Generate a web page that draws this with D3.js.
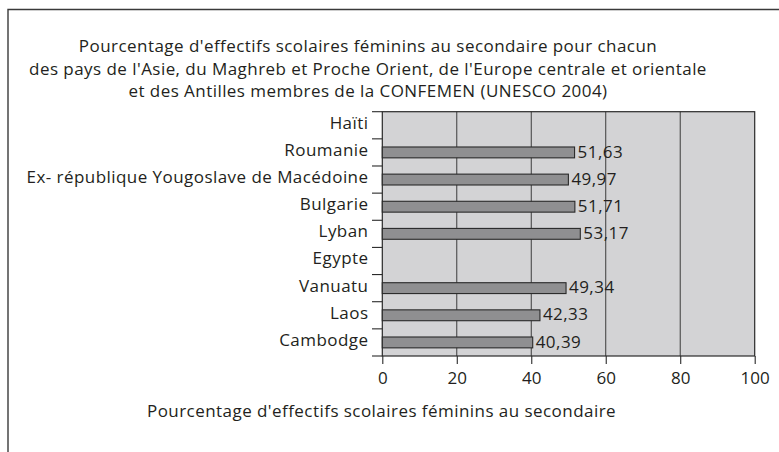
<!DOCTYPE html>
<html><head><meta charset="utf-8">
<script src="https://cdn.jsdelivr.net/npm/d3@7"></script>
<style>
html,body{margin:0;padding:0;background:#fff;}
svg{display:block;}
text{font-family:"Open Sans", sans-serif; fill:#231f20;}
</style></head>
<body><svg id="c" width="779" height="452"></svg>
<script>
const titleLines = [
  "Pourcentage d'effectifs scolaires féminins au secondaire pour chacun",
  "des pays de l'Asie, du Maghreb et Proche Orient, de l'Europe centrale et orientale",
  "et des Antilles membres de la CONFEMEN (UNESCO 2004)"
];
const categories = ["Haïti","Roumanie","Ex- république Yougoslave de Macédoine","Bulgarie","Lyban","Egypte","Vanuatu","Laos","Cambodge"];
const values = [null,51.63,49.97,51.71,53.17,null,49.34,42.33,40.39];
const valueLabels = ["","51,63","49,97","51,71","53,17","","49,34","42,33","40,39"];
const xTicks = [0,20,40,60,80,100];
const xTitle = "Pourcentage d'effectifs scolaires féminins au secondaire";

const svg = d3.select("#c");
const fs = 17;
const ls = "0.45px";

// outer frame
svg.append("path").attr("d","M8,452V9.5H779").attr("fill","none").attr("stroke","#3a3a3a").attr("stroke-width",1.4);

// title
svg.append("g").selectAll("text").data(titleLines).join("text")
  .attr("x",368).attr("y",(d,i)=>52+i*22.7).attr("text-anchor","middle")
  .style("font-size",fs+"px").style("letter-spacing",ls).text(d=>d);

const x = d3.scaleLinear().domain([0,100]).range([382.3,754.7]);
const y = d3.scaleBand().domain(categories).range([111.7,356]).paddingInner(0.6).paddingOuter(0.3);
const step = y.step();
const pTop = 111.7, pBottom = 356;

// plot background
svg.append("rect").attr("x",x(0)).attr("y",pTop).attr("width",x(100)-x(0)).attr("height",pBottom-pTop)
  .attr("fill","#d3d3d5");

// grid
svg.append("g").selectAll("line").data(xTicks.slice(1,-1)).join("line")
  .attr("x1",d=>x(d)).attr("x2",d=>x(d)).attr("y1",pTop).attr("y2",pBottom)
  .attr("stroke","#3c3c3c").attr("stroke-width",1);

// plot border
svg.append("rect").attr("x",x(0)).attr("y",pTop).attr("width",x(100)-x(0)).attr("height",pBottom-pTop)
  .attr("fill","none").attr("stroke","#2a2a2a").attr("stroke-width",1.2);

// bars
const data = categories.map((c,i)=>({c, v:values[i], l:valueLabels[i]})).filter(d=>d.v!=null);
svg.append("g").selectAll("rect").data(data).join("rect")
  .attr("x",x(0)).attr("y",d=>y(d.c)).attr("width",d=>x(d.v)-x(0)).attr("height",y.bandwidth())
  .attr("fill","#8f8f91").attr("stroke","#2a2a2a").attr("stroke-width",1.1);

// value labels
svg.append("g").selectAll("text").data(data).join("text")
  .attr("x",d=>x(d.v)+3).attr("y",d=>y(d.c)+y.bandwidth()/2).attr("dy","0.3em")
  .style("font-size",fs+"px").style("letter-spacing",ls).text(d=>d.l);

// y axis ticks at band boundaries
const bounds = d3.range(categories.length+1).map(i=>pTop+i*step);
svg.append("g").selectAll("line").data(bounds).join("line")
  .attr("x1",372).attr("x2",x(0)).attr("y1",d=>d).attr("y2",d=>d)
  .attr("stroke","#2a2a2a").attr("stroke-width",1.1);
svg.append("g").selectAll("text").data(categories).join("text")
  .attr("x",368.5).attr("y",d=>y(d)+y.bandwidth()/2).attr("dy","0.2em")
  .attr("text-anchor","end").style("font-size",fs+"px").style("letter-spacing",ls).text(d=>d);

// x axis
const xa = svg.append("g").attr("transform",`translate(0,${pBottom})`)
  .call(d3.axisBottom(x).tickValues(xTicks).tickSize(8).tickPadding(8).tickFormat(d3.format("d")));
xa.select(".domain").remove();
xa.selectAll(".tick line").attr("stroke","#2a2a2a").attr("stroke-width",1.1);
xa.selectAll(".tick text").style("font-size",fs+"px").attr("fill","#231f20").style("font-family","'Open Sans', sans-serif");

// x title
svg.append("text").attr("x",381.5).attr("y",417).attr("text-anchor","middle")
  .style("font-size",fs+"px").style("letter-spacing",ls).text(xTitle);
</script></body></html>
